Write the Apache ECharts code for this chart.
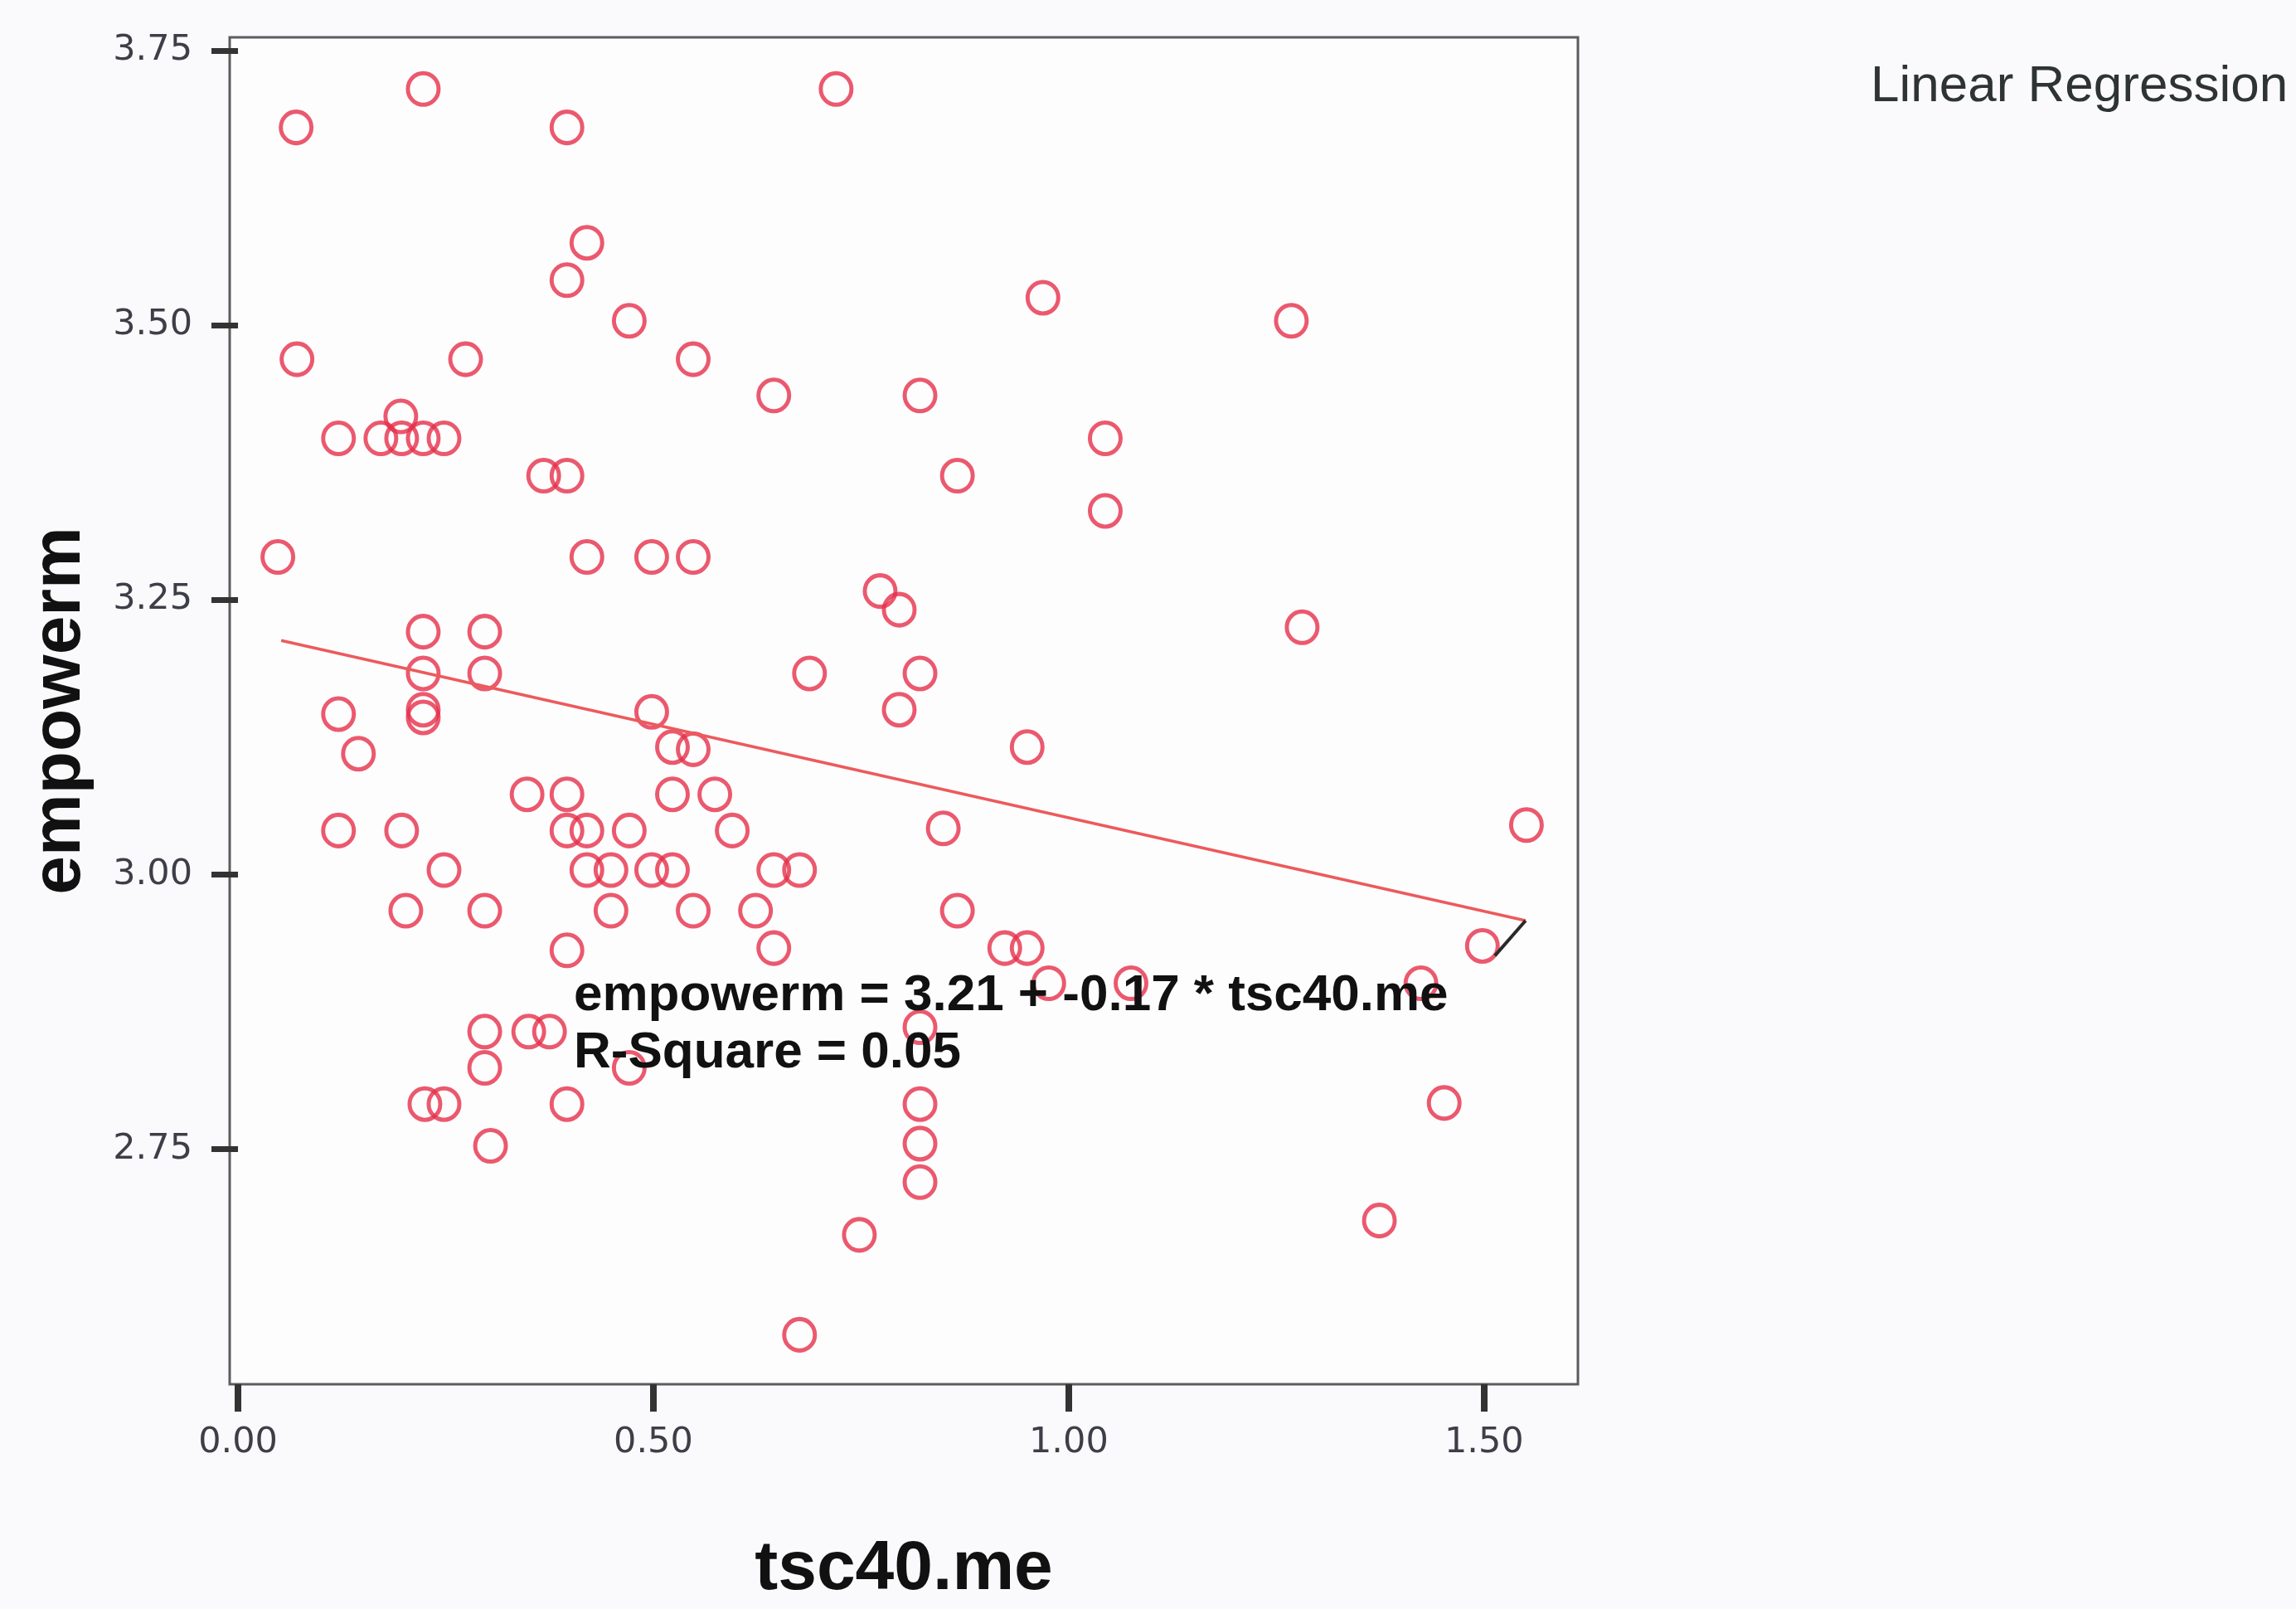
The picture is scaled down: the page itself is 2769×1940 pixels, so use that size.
<!DOCTYPE html>
<html>
<head>
<meta charset="utf-8">
<title>empowerm vs tsc40.me</title>
<script src="https://cdn.jsdelivr.net/npm/echarts@6/dist/echarts.min.js"></script>
<style>
    html, body { margin: 0; padding: 0; background: #fafafc; }
    #chart { width: 2769px; height: 1940px; }
</style>
</head>
<body>
<div id="chart"></div>
<script>
// tsc40.me (x) and empowerm (y)
var tscVals = [
    0.223, 0.720, 0.070, 0.396, 0.420, 0.396, 0.969, 0.471, 1.268,
    0.071, 0.274, 0.548, 0.645, 0.821, 0.196,
    0.121, 0.172, 0.197, 0.223, 0.248, 1.044,
    0.368, 0.396, 0.866, 1.044,
    0.048, 0.420, 0.498, 0.548, 0.773, 0.796,
    1.281, 0.223, 0.297,
    0.223, 0.297, 0.688, 0.821,
    0.121, 0.223, 0.223, 0.498, 0.796,
    0.145, 0.523, 0.548, 0.950,
    0.348, 0.396, 0.523, 0.574,
    0.121, 0.197, 0.396, 0.420, 0.471, 0.595, 0.849, 1.551,
    0.248, 0.420, 0.449, 0.498, 0.523, 0.645, 0.676,
    0.202, 0.297, 0.449, 0.548, 0.623, 0.866,
    0.396, 0.645, 0.923, 0.950, 1.498,
    0.976, 1.075, 1.424, 0.821,
    0.297, 0.350, 0.375, 0.297, 0.471,
    0.225, 0.248, 0.396, 0.821, 1.452,
    0.304, 0.821, 0.821, 1.374, 0.748, 0.676
];
var empVals = [
    3.715, 3.715, 3.680, 3.680, 3.575, 3.541, 3.525, 3.504, 3.504,
    3.469, 3.469, 3.469, 3.436, 3.436, 3.417,
    3.397, 3.397, 3.397, 3.397, 3.397, 3.397,
    3.363, 3.363, 3.363, 3.331,
    3.289, 3.289, 3.289, 3.289, 3.258, 3.241,
    3.225, 3.221, 3.221,
    3.183, 3.183, 3.183, 3.183,
    3.146, 3.150, 3.143, 3.148, 3.150,
    3.110, 3.116, 3.114, 3.116,
    3.073, 3.073, 3.073, 3.073,
    3.040, 3.040, 3.040, 3.040, 3.040, 3.040, 3.042, 3.045,
    3.004, 3.004, 3.004, 3.004, 3.004, 3.004, 3.004,
    2.967, 2.967, 2.967, 2.967, 2.967, 2.967,
    2.931, 2.933, 2.933, 2.933, 2.935,
    2.901, 2.901, 2.901, 2.861,
    2.857, 2.857, 2.857, 2.824, 2.824,
    2.791, 2.791, 2.791, 2.791, 2.792,
    2.753, 2.755, 2.720, 2.685, 2.672, 2.581
];

// fitted line end points and the label leader
var fitX = [0.052, 1.550];
var fitY = [3.213, 2.958];
var leaderX = [1.550, 1.513];
var leaderY = [2.958, 2.926];

// tick labels
var xTicks = [0, 0.5, 1.0, 1.5];
var yTicks = [2.75, 3.0, 3.25, 3.5, 3.75];

var eqLine1 = 'empowerm = 3.21 + -0.17 * tsc40.me';
var eqLine2 = 'R-Square = 0.05';

function pairs(xs, ys) {
    var out = [];
    for (var i = 0; i < xs.length; i++) {
        out.push([xs[i], ys[i]]);
    }
    return out;
}

var myChart = echarts.init(document.getElementById('chart'));

var tickFont = 'DejaVu Sans';
var boldFont = 'Liberation Sans';

myChart.setOption({
    animation: false,
    backgroundColor: '#fafafc',
    grid: {
        left: 277,
        right: 866,
        top: 45,
        bottom: 267,
        show: true,
        backgroundColor: '#fdfdfe',
        borderColor: '#5c5c60',
        borderWidth: 3
    },
    xAxis: {
        type: 'value',
        min: -0.01,
        max: 1.613,
        name: 'tsc40.me',
        nameLocation: 'middle',
        nameGap: 182,
        nameTextStyle: { fontFamily: boldFont, fontWeight: 'bold', fontSize: 84, color: '#111' },
        axisLine: { show: false },
        splitLine: { show: false },
        axisTick: {
            show: true, inside: false, length: 33,
            customValues: xTicks,
            lineStyle: { color: '#333', width: 8 }
        },
        axisLabel: {
            customValues: xTicks,
            margin: 49,
            fontFamily: tickFont, fontSize: 43, color: '#3e3e48',
            formatter: function (v) { return v.toFixed(2); }
        }
    },
    yAxis: {
        type: 'value',
        min: 2.536,
        max: 3.762,
        name: 'empowerm',
        nameLocation: 'middle',
        nameRotate: 90,
        nameGap: 162,
        nameTextStyle: { fontFamily: boldFont, fontWeight: 'bold', fontSize: 84, color: '#111' },
        axisLine: { show: false },
        splitLine: { show: false },
        axisTick: {
            show: true, inside: false, length: 32,
            customValues: yTicks,
            lineStyle: { color: '#333', width: 7 }
        },
        axisLabel: {
            customValues: yTicks,
            margin: 45,
            fontFamily: tickFont, fontSize: 43, color: '#3e3e48',
            formatter: function (v) { return v.toFixed(2); }
        }
    },
    series: [
        {
            type: 'scatter',
            data: pairs(tscVals, empVals),
            symbol: 'circle',
            symbolSize: [37, 38],
            itemStyle: { color: 'rgba(0,0,0,0)', borderColor: '#e6304a', borderWidth: 5 },
            z: 3
        },
        {
            //回归线
            type: 'line',
            data: pairs(fitX, fitY),
            symbol: 'none',
            lineStyle: { color: '#ec5a5c', width: 3.5 },
            z: 4
        },
        {
            type: 'line',
            data: pairs(leaderX, leaderY),
            symbol: 'none',
            lineStyle: { color: '#2a2a2a', width: 4 },
            z: 4
        }
    ],
    graphic: [
        {
            type: 'text', z: 10,
            style: { text: eqLine1, x: 692, y: 1201, verticalAlign: 'middle',
                font: 'bold 62px "Liberation Sans", Arial', fill: '#111' }
        },
        {
            type: 'text', z: 10,
            style: { text: eqLine2, x: 692, y: 1270, verticalAlign: 'middle',
                font: 'bold 62px "Liberation Sans", Arial', fill: '#111' }
        },
        {
            type: 'text', z: 10,
            style: { text: 'Linear Regression', x: 2256, y: 105, verticalAlign: 'middle',
                font: '62px "Liberation Sans", Arial', fill: '#2e3333' }
        }
    ]
});
</script>
</body>
</html>
